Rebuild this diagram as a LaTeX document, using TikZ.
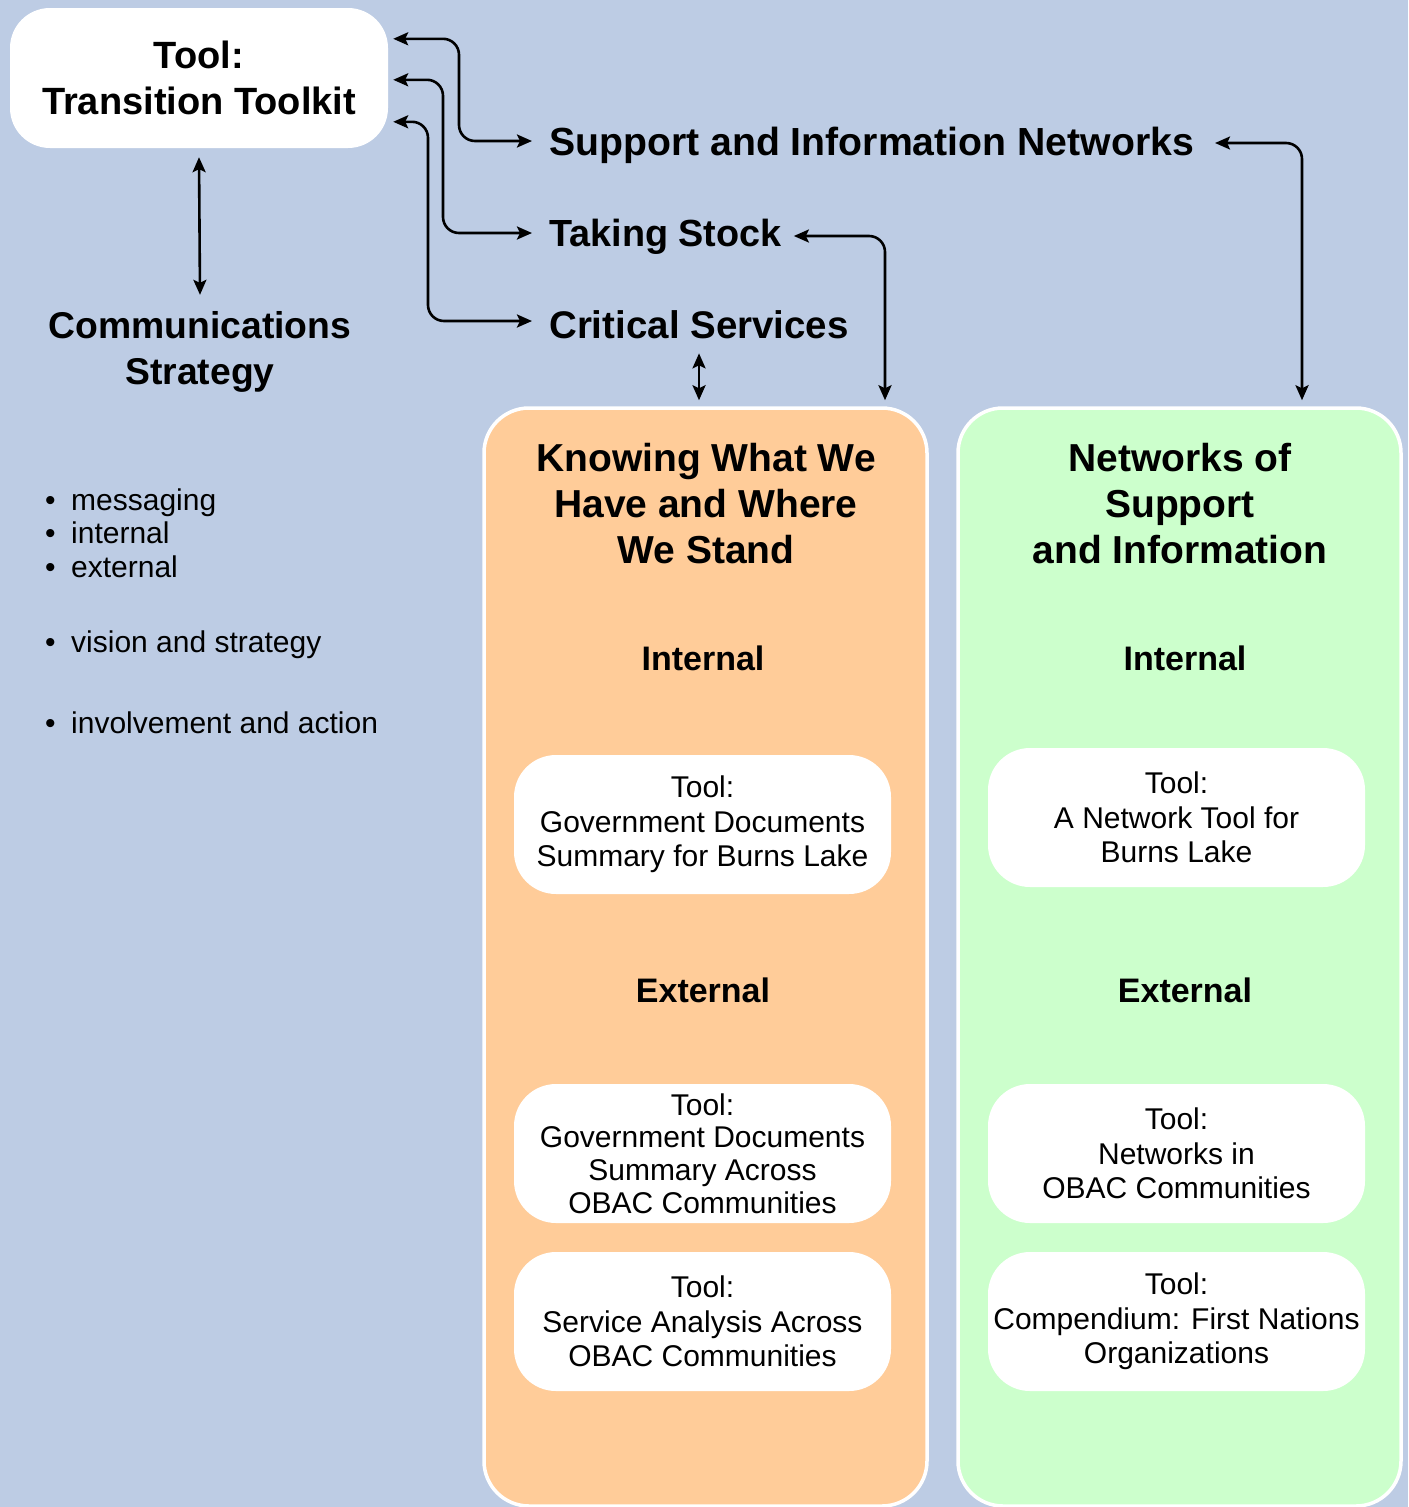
\documentclass[tikz,border=0pt]{standalone}
\usepackage{fontspec}
\setmainfont{Liberation Sans}
\usetikzlibrary{arrows.meta}
\definecolor{bgblue}{RGB}{189,204,228}
\definecolor{colorange}{RGB}{255,204,153}
\definecolor{colgreen}{RGB}{204,255,204}
\begin{document}
\begin{tikzpicture}[x=1pt,y=-1pt,
  conn/.style={line width=2.6pt,{Stealth[length=15pt,width=13pt,inset=3pt]}-{Stealth[length=15pt,width=13pt,inset=3pt]},rounded corners=16pt},
  heading/.style={inner sep=0pt,align=center,font=\fontsize{39}{46}\selectfont\bfseries},
  sublabel/.style={inner sep=0pt,font=\fontsize{34}{40}\selectfont\bfseries},
  arrlabel/.style={inner sep=0pt,anchor=west,font=\fontsize{38.5}{46}\selectfont\bfseries},
  column/.style={draw=white,line width=3.5pt,rounded corners=45pt,minimum width=443pt,minimum height=1098pt,inner sep=0pt},
  toolbox/.style={fill=white,rounded corners=42pt,minimum width=377pt,minimum height=139pt,inner sep=0pt,align=center,font=\fontsize{30}{34.5}\selectfont},
  bulletitem/.style={inner sep=0pt,anchor=base west,font=\fontsize{30}{34}\selectfont}
]
\fill[bgblue] (0,0) rectangle (1408,1507);
\useasboundingbox (0,0) rectangle (1408,1507);

% top-left tool box
\node[fill=white,rounded corners=40pt,minimum width=378pt,minimum height=140pt,inner sep=0pt,align=center,font=\fontsize{38}{46}\selectfont\bfseries] (tk) at (199,78) {Tool:\\Transition Toolkit};

% communications strategy
\node[heading,font=\fontsize{37.3}{46}\selectfont\bfseries] (comm) at (200,351.5) {Communications\\Strategy};

% bullets
\node[bulletitem] (b1) at (45,510) {\makebox[26pt][l]{•}messaging};
\node[bulletitem] (b2) at (45,543) {\makebox[26pt][l]{•}internal};
\node[bulletitem] (b3) at (45,577) {\makebox[26pt][l]{•}external};
\node[bulletitem] (b4) at (45,652) {\makebox[26pt][l]{•}vision and strategy};
\node[bulletitem] (b5) at (45,733) {\makebox[26pt][l]{•}involvement and action};

% arrow labels
\node[arrlabel,font=\fontsize{39.2}{46}\selectfont\bfseries] (sup) at (549,145) {Support and Information Networks};
\node[arrlabel,font=\fontsize{37.8}{46}\selectfont\bfseries] (stock) at (549,237) {Taking Stock};
\node[arrlabel] (crit) at (549,325) {Critical Services};

% columns
\node[column,fill=colorange] (col1) at (705.5,957) {};
\node[column,fill=colgreen] (col2) at (1179.5,957) {};

% column headings
\node[heading] (kw) at (706,504) {Knowing What We\\Have and Where\\We Stand};
\node[heading] (nw) at (1180,504) {Networks of\\Support\\and Information};

\node[sublabel] (int1) at (703,658) {Internal};
\node[sublabel] (ext1) at (703,990) {External};
\node[sublabel] (int2) at (1185,658) {Internal};
\node[sublabel] (ext2) at (1185,990) {External};

% tool boxes
\node[toolbox] (t1) at (702.5,824.5) {Tool:\\Government Documents\\Summary for Burns Lake};
\node[toolbox,font=\fontsize{30}{32.7}\selectfont] (t2) at (702.5,1153.5) {Tool:\\Government Documents\\Summary Across\\OBAC Communities};
\node[toolbox] (t3) at (702.5,1321.5) {Tool:\\Service Analysis Across\\OBAC Communities};
\node[toolbox] (t4) at (1176.5,817.5) {Tool:\\A Network Tool for\\Burns Lake};
\node[toolbox] (t5) at (1176.5,1153.5) {Tool:\\Networks in\\OBAC Communities};
\node[toolbox] (t6) at (1176.5,1321.5) {Tool:\\Compendium: First Nations\\Organizations};

% connectors
\draw[conn] ([shift={(0,9)}]tk.south) -- ([shift={(0,-16)}]comm.north);
\draw[conn] ([shift={(5,31)}]tk.north east) -| ([shift={(-90,-4)}]sup.west) -- ([shift={(-17,-4)}]sup.west);
\draw[conn] ([shift={(5,72)}]tk.north east) -| ([shift={(-106,-4)}]stock.west) -- ([shift={(-17,-4)}]stock.west);
\draw[conn] ([shift={(5,114)}]tk.north east) -| ([shift={(-121,-4)}]crit.west) -- ([shift={(-17,-4)}]crit.west);
\draw[conn] ([shift={(12,-1)}]stock.east) -| ([shift={(179.5,-6)}]col1.north);
\draw[conn] ([shift={(21,-2)}]sup.east) -| ([shift={(122.5,-6)}]col2.north);
\draw[conn,shorten >=6pt] ([shift={(0,14)}]crit.south) -- (crit.south |- col1.north);
\end{tikzpicture}
\end{document}
